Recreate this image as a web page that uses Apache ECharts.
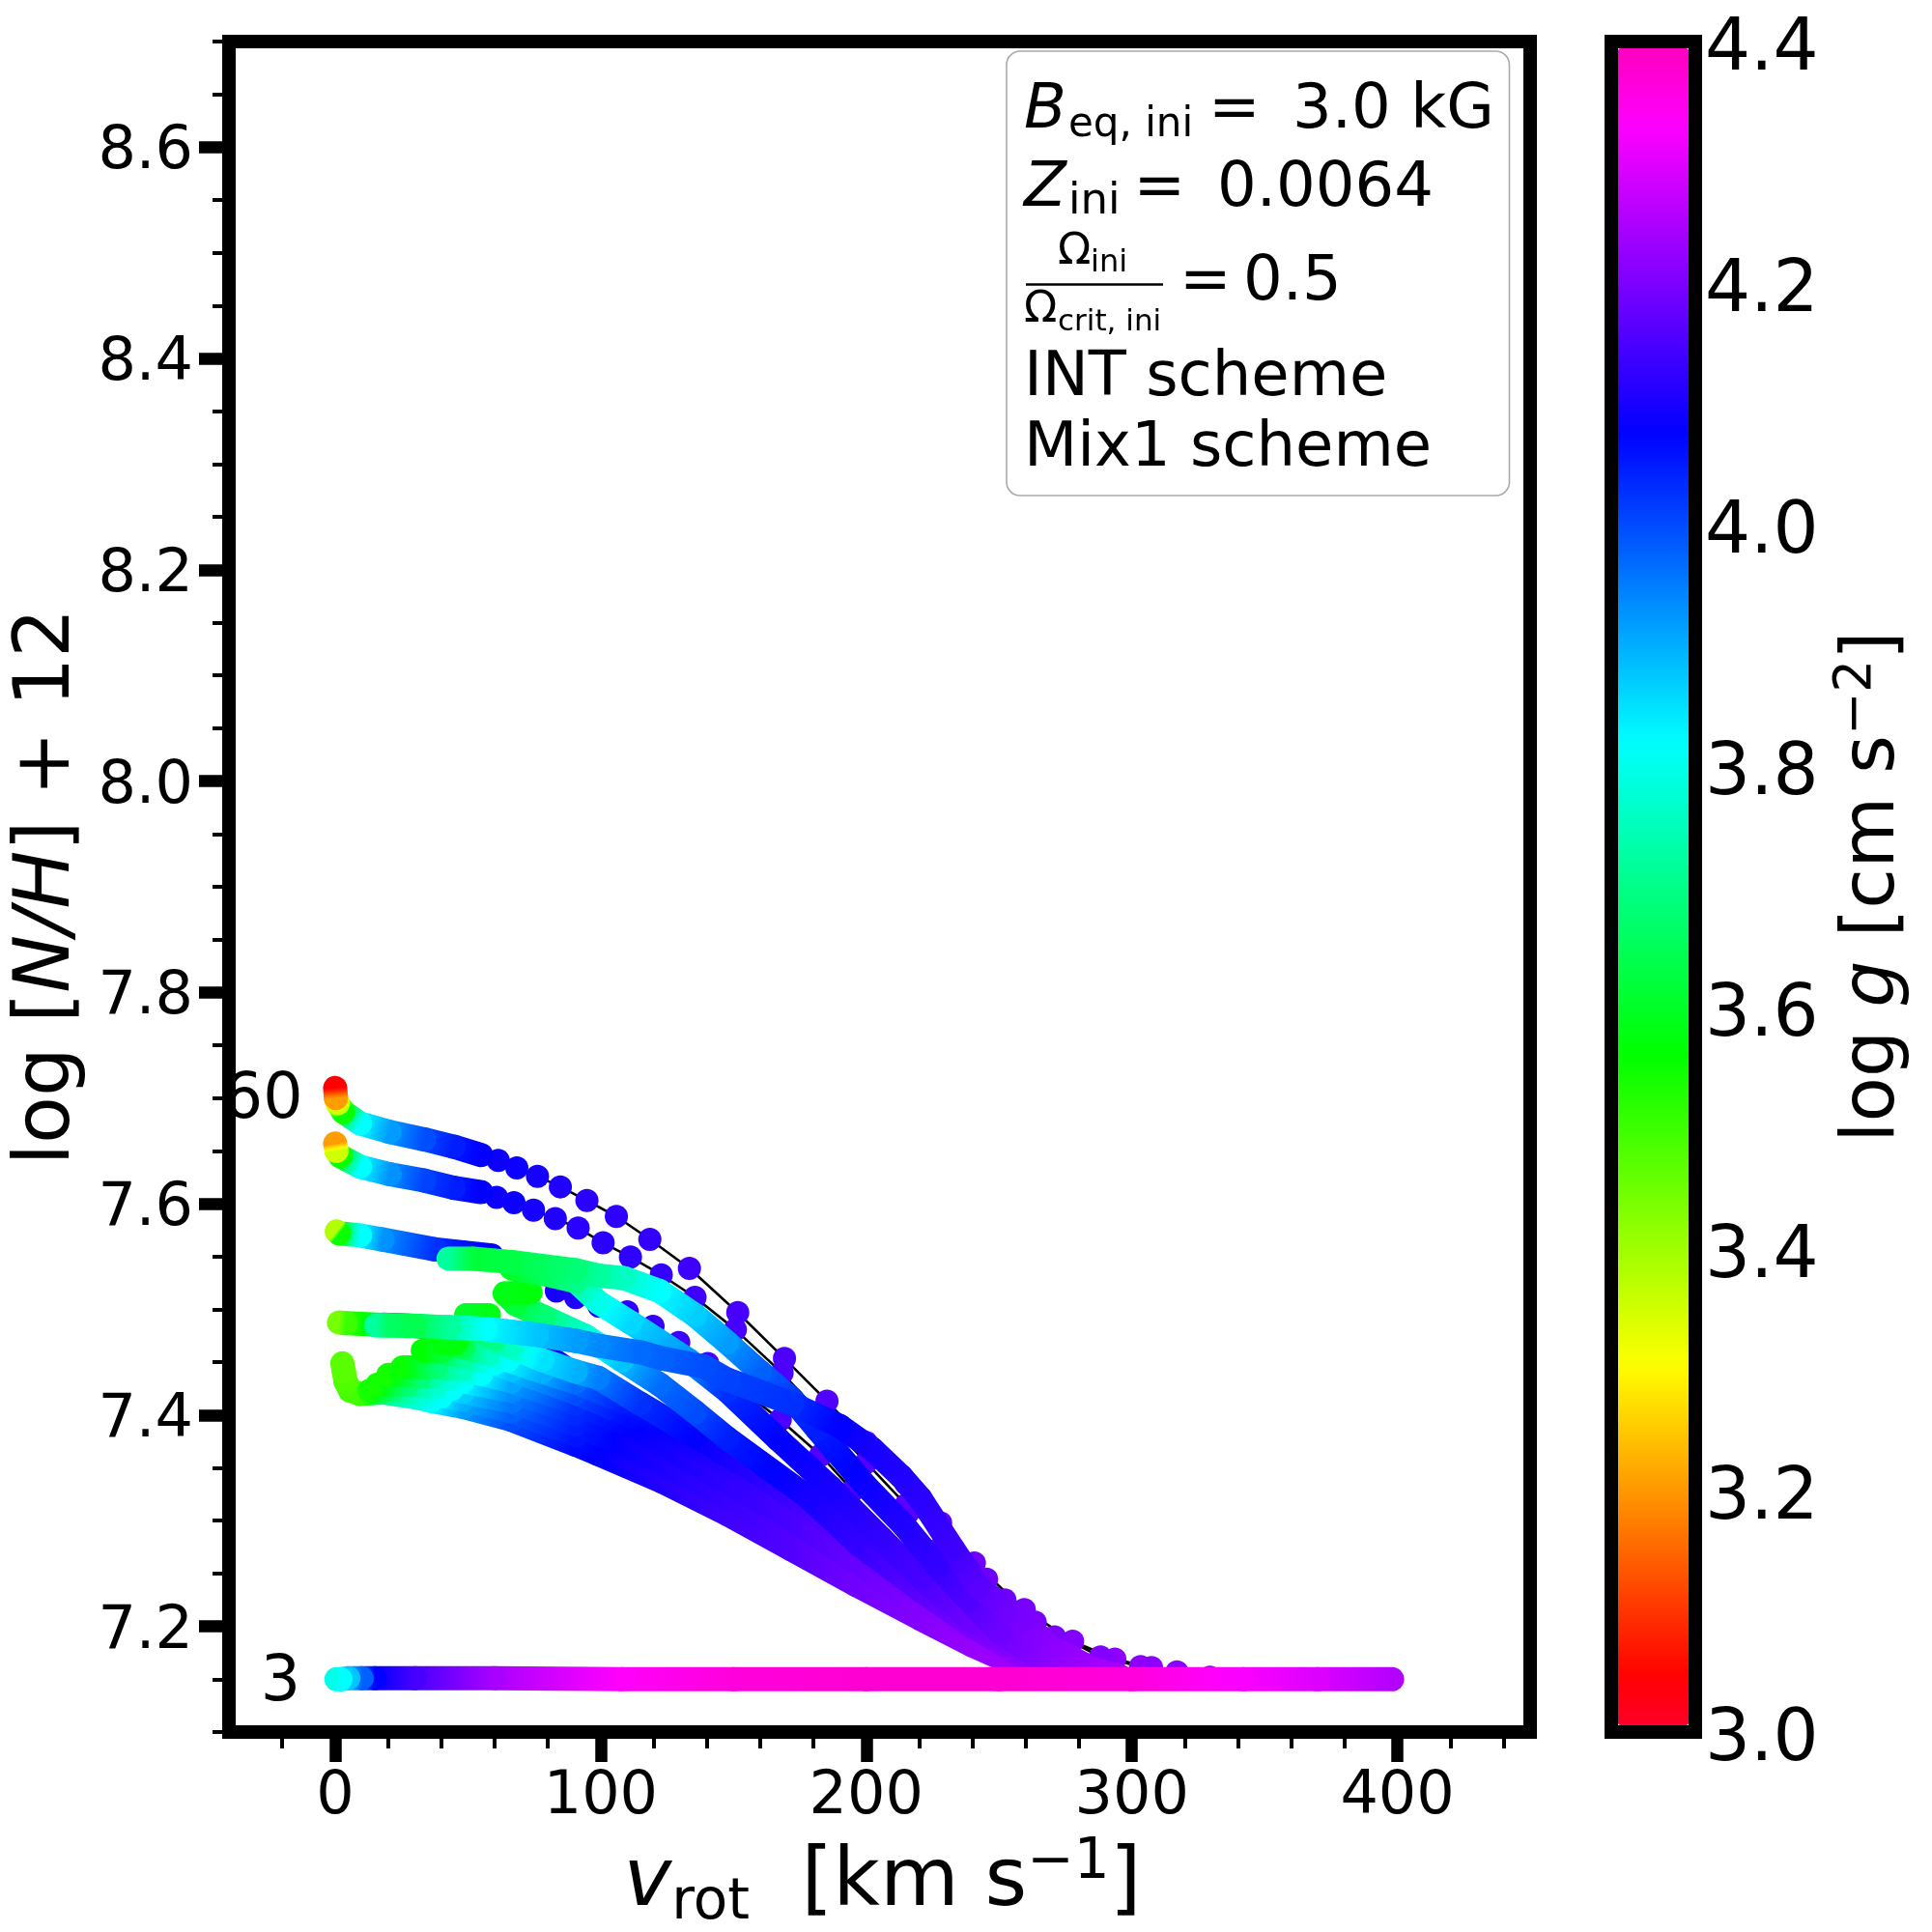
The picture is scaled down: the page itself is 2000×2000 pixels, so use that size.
<!DOCTYPE html>
<html><head><meta charset="utf-8">
<style>html,body{margin:0;padding:0;background:#fff}#c{width:2000px;height:2000px}</style>
<script src="https://cdn.jsdelivr.net/npm/echarts@6/dist/echarts.min.js"></script>
</head><body><div id="c"></div>
<script>
// ---- axis ticks ----
const xMajor=[0,100,200,300,400];
const xMinor=[-20,20,40,60,80,120,140,160,180,220,240,260,280,320,340,360,380,420,440];
const yMajor=[7.2,7.4,7.6,7.8,8.0,8.2,8.4,8.6];
const yMinor=[7.1,7.15,7.25,7.3,7.35,7.45,7.5,7.55,7.65,7.7,7.75,7.85,7.9,7.95,8.05,8.1,8.15,8.25,8.3,8.35,8.45,8.5,8.55,8.65,8.7];
const gMajor=[3.0,3.2,3.4,3.6,3.8,4.0,4.2,4.4];
// ---- tracks: [v_rot, log N/H+12, log g] ----
// upper three tracks: continuous slow end + separated dots
const t60Solid=[[0,7.7096,3.04],[0.3,7.70,3.2],[1,7.695,3.35],[3,7.687,3.55],[9.4,7.676,3.82],[20.5,7.668,3.92],[33.5,7.661,4.0],[44.7,7.654,4.05],[55,7.646,4.08]];
const t60Dots=[[33.5,7.661,4.0],[44.7,7.654,4.05],[55,7.646,4.08],[61.4,7.641,4.09],[68.4,7.634,4.09],[76.2,7.626,4.1],[84.8,7.616,4.11],[94.8,7.603,4.12],[105.9,7.588,4.125],[118.5,7.5663,4.13],[133.4,7.5388,4.14],[151.6,7.497,4.15],[169.2,7.4535,4.155],[185.2,7.4132,4.16],[200,7.374,4.165],[215,7.335,4.17],[228,7.298,4.18],[240.7,7.26,4.19],[259.5,7.216,4.2],[277.7,7.186,4.21],[293.6,7.169,4.22],[307.4,7.161,4.22],[329.4,7.152,4.22]];
const t40Solid=[[0,7.657,3.2],[0.5,7.65,3.35],[2,7.645,3.55],[9.4,7.635,3.82],[20.5,7.628,3.93],[33.5,7.622,4.01],[44.7,7.615,4.05],[55,7.611,4.08]];
const t40Dots=[[33.5,7.622,4.01],[44.7,7.615,4.05],[55,7.611,4.08],[60.8,7.606,4.09],[67.3,7.601,4.09],[74.7,7.594,4.1],[82.9,7.586,4.11],[91.5,7.577,4.12],[100.9,7.563,4.12],[111.2,7.5495,4.125],[122.8,7.5327,4.13],[135.5,7.5114,4.14],[150.7,7.4809,4.15],[168.3,7.4398,4.155],[185,7.395,4.16],[200,7.355,4.165],[215,7.315,4.17],[230,7.28,4.18],[245.3,7.2447,4.19],[263.6,7.204,4.2],[288.2,7.171,4.21],[303.3,7.162,4.22],[317,7.157,4.22]];
const t25Solid=[[0.6,7.5738,3.38],[1.5,7.572,3.55],[9.4,7.57,3.82],[17.8,7.5662,3.93],[37.2,7.557,4.03],[48,7.554,4.06],[59,7.551,4.08]];
const t25Dots=[[59,7.551,4.08],[70,7.535,4.09],[83.3,7.5174,4.1],[90.6,7.5113,4.11],[99.4,7.503,4.12],[110,7.4977,4.125],[119.7,7.484,4.13],[129.4,7.4687,4.14],[140.3,7.4489,4.15],[167.6,7.3956,4.155],[182.8,7.362,4.16],[194.9,7.3285,4.165],[215.6,7.3072,4.17],[226.5,7.272,4.18],[252.2,7.225,4.19],[270.9,7.19,4.2]];
// track peeking out as a blue sliver below the long plateau track
const tB=[[18,7.4855,4.0],[30,7.4845,4.05],[59,7.478,4.08],[78.5,7.4586,4.09],[94,7.432,4.1],[110,7.41,4.1],[130,7.375,4.11],[150,7.345,4.13],[178,7.295,4.15],[206,7.24,4.18],[230,7.205,4.2],[250,7.172,4.22],[270,7.152,4.25]];
// fan of tracks, lowest first
const tP=[[2.7,7.449,3.47],[3.3,7.441,3.47],[3.9,7.432,3.48],[5.7,7.423,3.49],[9.3,7.42,3.5],[17.8,7.4214,3.68],[30,7.4169,3.78],[36,7.4135,3.82],[48.2,7.4077,3.92],[66.4,7.3955,4.0],[90.6,7.372,4.07],[99.1,7.363,4.08],[123.4,7.3367,4.11],[147.6,7.3063,4.14],[171.9,7.2727,4.16],[196.2,7.2392,4.19],[220.4,7.2072,4.21],[240,7.182,4.23],[255,7.165,4.24],[268,7.152,4.25]];
const tO=[[13,7.423,3.54],[22,7.4245,3.68],[33,7.421,3.78],[40,7.418,3.82],[48,7.415,3.9],[66.4,7.404,3.98],[90.6,7.381,4.06],[111,7.359,4.1],[135.5,7.329,4.13],[171.9,7.28,4.16],[196,7.245,4.19],[220.4,7.21,4.21],[240,7.184,4.23],[258,7.165,4.24],[272,7.152,4.25]];
const tN=[[16,7.429,3.54],[27,7.429,3.68],[38,7.427,3.78],[44,7.425,3.82],[48,7.422,3.87],[66.4,7.413,3.96],[90.6,7.391,4.05],[111,7.369,4.09],[135.5,7.338,4.12],[171.9,7.287,4.16],[196,7.25,4.19],[220.4,7.212,4.21],[240,7.186,4.23],[260,7.165,4.24],[276,7.152,4.25]];
const tM=[[20,7.438,3.54],[32,7.437,3.68],[44,7.435,3.79],[48,7.432,3.82],[66.4,7.423,3.94],[90.6,7.401,4.04],[111,7.38,4.09],[135.5,7.346,4.12],[171.9,7.294,4.16],[196,7.256,4.19],[220.4,7.214,4.21],[240,7.188,4.23],[262,7.165,4.24],[280,7.152,4.25]];
const tL=[[25.4,7.4452,3.55],[38,7.445,3.68],[48,7.443,3.76],[55,7.439,3.82],[66.4,7.432,3.91],[90.6,7.411,4.03],[111,7.39,4.08],[135.5,7.354,4.11],[171.9,7.301,4.15],[196,7.262,4.18],[220.4,7.217,4.21],[240,7.19,4.23],[264,7.165,4.24],[282,7.152,4.25]];
const tK=[[33,7.461,3.56],[40,7.46,3.62],[48,7.455,3.72],[60,7.449,3.82],[66.4,7.443,3.88],[90.6,7.421,4.0],[111,7.4,4.07],[135.5,7.363,4.11],[171.9,7.308,4.15],[196,7.268,4.18],[220.4,7.219,4.21],[240,7.192,4.23],[266,7.165,4.24],[284,7.152,4.25]];
const tJ=[[45.7,7.468,3.57],[40.3,7.468,3.57],[48,7.464,3.64],[58,7.458,3.76],[65,7.452,3.82],[78,7.441,3.9],[90.6,7.431,3.97],[111,7.41,4.06],[135.5,7.372,4.1],[171.9,7.315,4.15],[196,7.274,4.18],[220.4,7.221,4.21],[240,7.194,4.23],[268,7.165,4.24],[286,7.152,4.25]];
const tI=[[57.9,7.4946,3.58],[49.4,7.4946,3.6],[55,7.482,3.62],[60,7.472,3.7],[66.4,7.4641,3.76],[78,7.452,3.85],[90.6,7.4412,3.9],[99.1,7.4352,3.95],[114.9,7.4108,4.03],[135.5,7.3803,4.08],[159.8,7.3437,4.12],[184,7.301,4.16],[208.3,7.2523,4.19],[232.6,7.2066,4.22],[250,7.186,4.23],[270,7.165,4.24],[288,7.152,4.25]];
const tE=[[73.6,7.516,3.57],[63.9,7.515,3.58],[68,7.505,3.62],[78.5,7.493,3.68],[94.3,7.4748,3.78],[108,7.452,3.88],[122.2,7.429,3.97],[135.5,7.403,4.0],[147.6,7.378,4.05],[178,7.3224,4.1],[196.2,7.2797,4.13],[220.4,7.234,4.17],[240,7.2,4.2],[260,7.17,4.23],[274,7.152,4.25]];
const tD2=[[66.4,7.5388,3.6],[78,7.534,3.65],[90.6,7.5266,3.7],[99.1,7.5068,3.8],[111.2,7.4876,3.86],[133.1,7.4519,3.93],[147.6,7.423,4.03],[167,7.3767,4.08],[186.5,7.3316,4.1],[205.9,7.2828,4.13],[220.4,7.2461,4.15],[240,7.205,4.19],[260,7.172,4.22],[282,7.152,4.25]];
const tD=[[42.7,7.548,3.72],[51.8,7.548,3.62],[66.4,7.5449,3.63],[90.6,7.5372,3.68],[99.1,7.532,3.72],[108.8,7.5296,3.76],[122.2,7.5174,3.82],[135.5,7.4946,3.87],[147.6,7.4687,3.92],[159.8,7.4413,3.98],[171.9,7.4154,4.02],[181.6,7.3864,4.05],[199.8,7.3331,4.09],[214.4,7.295,4.11],[226.5,7.2581,4.13],[238.6,7.2249,4.16],[250,7.195,4.19],[268,7.165,4.22],[287,7.152,4.25]];
const tF=[[1.45,7.4876,3.44],[4,7.487,3.5],[17.8,7.4854,3.62],[30,7.4845,3.64],[43,7.483,3.72],[56.6,7.4815,3.82],[76,7.476,3.88],[90.6,7.4702,3.92],[99.1,7.4657,3.94],[114.9,7.4595,3.97],[123.4,7.4535,3.98],[139.1,7.4458,4.0],[147.6,7.4337,4.01],[171.9,7.4108,4.03],[190.1,7.3895,4.08],[202.2,7.368,4.1],[213.1,7.342,4.11],[220.4,7.321,4.12],[232.6,7.2737,4.14],[242.3,7.2376,4.17],[258,7.205,4.2],[270,7.18,4.22],[285,7.16,4.24],[296,7.152,4.25]];
const tG=[[15.4,7.4848,3.72],[20,7.4848,3.66],[30,7.4842,3.64],[43,7.483,3.72],[56.6,7.4815,3.82],[76,7.476,3.88],[90.6,7.4702,3.92]];
const t3=[[0.5,7.15,3.8],[2,7.15,3.82],[5,7.151,3.88],[10,7.151,3.98],[15,7.151,4.08],[30,7.151,4.15],[60,7.151,4.25],[108,7.15,4.34],[150,7.15,4.37],[200,7.15,4.38],[250,7.15,4.38],[300,7.15,4.37],[342,7.15,4.33],[370,7.15,4.3],[398,7.15,4.26]];
// text labels placed on the data
const massLabels=[{name:'60',value:[-27.2,7.697]},{name:'3',value:[-20.6,7.146]}];

// gist_rainbow colour map
const cmapStops=[[0,255,0,41],[0.03,255,0,0],[0.215,255,255,0],[0.4,0,255,0],[0.586,0,255,255],[0.77,0,0,255],[0.954,255,0,255],[1,255,0,191]];
function cmapT(t){
  t=Math.max(0,Math.min(1,t));
  for(let i=1;i<cmapStops.length;i++){
    const a=cmapStops[i-1],b=cmapStops[i];
    if(t<=b[0]){const f=(t-a[0])/(b[0]-a[0]);
      return 'rgb('+[1,2,3].map(k=>Math.round(a[k]+(b[k]-a[k])*f)).join(',')+')';}
  }
  return 'rgb(255,0,191)';
}
const G0=3.0,G1=4.4;
const cmapG=g=>cmapT((g-G0)/(G1-G0));
const cmapList=[];for(let i=0;i<=140;i++)cmapList.push(cmapT(i/140));

const FONT='DejaVu Sans';
const solid=(name,tr)=>{
  const segs=[];
  for(let i=tr.length-1;i>0;i--){const b=tr[i],a=tr[i-1];segs.push([b[0],b[1],b[2],a[0],a[1],a[2]]);}
  return {type:'custom',name,z:2,coordinateSystem:'cartesian2d',xAxisIndex:0,yAxisIndex:0,clip:true,silent:true,
    encode:{x:[0,3],y:[1,4]},data:segs,animation:false,
    renderItem(p,api){
      const A=api.coord([api.value(0),api.value(1)]),B=api.coord([api.value(3),api.value(4)]);
      const g1=api.value(2),g2=api.value(5),stops=[];
      for(let k=0;k<=4;k++)stops.push({offset:k/4,color:cmapG(g1+(g2-g1)*k/4)});
      const dx=B[0]-A[0],dy=B[1]-A[1];
      const grad=(dx*dx+dy*dy<0.5)?stops[4].color:new echarts.graphic.LinearGradient(A[0],A[1],B[0],B[1],stops,true);
      return {type:'line',shape:{x1:A[0],y1:A[1],x2:B[0],y2:B[1]},style:{stroke:grad,lineWidth:25,lineCap:'round',fill:null}};
    }};
};
const thin=(name,tr)=>({type:'line',name,z:1,xAxisIndex:0,yAxisIndex:0,data:tr.map(p=>[p[0],p[1]]),showSymbol:false,symbol:'none',
  lineStyle:{color:'#000',width:2.6},clip:true,silent:true,animation:false});
const dots=(name,tr)=>({type:'scatter',name,z:1,xAxisIndex:0,yAxisIndex:0,data:tr,symbolSize:24,itemStyle:{opacity:1},clip:true,silent:true,animation:false,encode:{x:0,y:1}});

const series=[
  thin('60 line',t60Dots),thin('40 line',t40Dots),thin('25 line',t25Dots),
  dots('60 dots',t60Dots),dots('40 dots',t40Dots),dots('25 dots',t25Dots),
  solid('60',t60Solid),solid('40',t40Solid),solid('25',t25Solid),
  solid('B',tB),
  solid('P',tP),solid('O',tO),solid('N',tN),solid('M',tM),solid('L',tL),solid('K',tK),solid('J',tJ),solid('I',tI),
  solid('E',tE),solid('D2',tD2),solid('D',tD),solid('F',tF),solid('G',tG),solid('3',t3),
  {type:'scatter',name:'mass labels',z:3,xAxisIndex:0,yAxisIndex:0,symbolSize:0,data:massLabels,silent:true,animation:false,clip:false,
   itemStyle:{opacity:1},
   label:{show:true,position:'inside',opacity:1,formatter:'{b}',fontFamily:FONT,fontSize:65,color:'#000'}}
];

// legend text placed at baseline positions
const T=(text,x,base,fs,italic)=>({type:'text',z:50,silent:true,x:x,y:base-1-0.23*fs,
  style:{text,fontFamily:FONT,fontSize:fs,fontStyle:italic?'italic':'normal',fill:'#000',align:'left',verticalAlign:'middle'}});
const legend=[
  {type:'rect',z:49,silent:true,shape:{x:1042,y:53,width:520.5,height:460,r:14},style:{fill:'#fff',stroke:'#aaa',lineWidth:1.6}},
  T('B',1060,131,64,true),T('eq, ini',1106,141,42,false),T('=',1251,131,64,false),T('3.0 kG',1338,131,64,false),
  T('Z',1060,212,64,true),T('ini',1106,221,45,false),T('=',1173.5,212,64,false),T('0.0064',1260,212,64,false),
  T('\u03a9',1095,273,45,false),T('ini',1129,281,32,false),
  {type:'line',z:50,silent:true,shape:{x1:1062,y1:294.5,x2:1204,y2:294.5},style:{stroke:'#000',lineWidth:2.5}},
  T('\u03a9',1060,333,45,false),T('crit, ini',1095,342,31,false),
  T('=',1221,309,64,false),T('0.5',1287,309,64,false),
  T('INT scheme',1060,408,64,false),T('Mix1 scheme',1060,481,64,false),
  {type:'rect',z:48,silent:true,shape:{x:1668,y:43,width:87,height:1750},style:{fill:null,stroke:'#000',lineWidth:14}}
];

const tickCommon={show:true,lineStyle:{color:'#000'}};
const noLine={show:false,onZero:false};
const option={
  animation:false,backgroundColor:'#fff',
  grid:[
    {left:237,top:43,width:1347,height:1750,show:true,borderWidth:14,borderColor:'#000',backgroundColor:'#fff',containLabel:false,outerBoundsMode:'none'},
    {left:1675,top:43,width:73,height:1750,containLabel:false,outerBoundsMode:'none'}
  ],
  xAxis:[
    {type:'value',gridIndex:0,position:'bottom',min:-40,max:450,splitLine:{show:false},axisLine:noLine,
     axisTick:{...tickCommon,customValues:xMajor,length:31,lineStyle:{color:'#000',width:12.5}},
     axisLabel:{customValues:xMajor,fontFamily:FONT,fontSize:62,color:'#000',margin:37,hideOverlap:false,showMinLabel:true,showMaxLabel:true},
     name:'{i|v}{s|rot}{t|  [km s}{u|\u22121}{t|]}',nameLocation:'middle',nameGap:107,
     nameTextStyle:{padding:[0,0,0,6],rich:{
       i:{fontFamily:FONT,fontSize:84,fontStyle:'italic',color:'#000'},
       t:{fontFamily:FONT,fontSize:84,color:'#000'},
       s:{fontFamily:FONT,fontSize:58,color:'#000',verticalAlign:'bottom',lineHeight:100},
       u:{fontFamily:FONT,fontSize:58,color:'#000',verticalAlign:'top',lineHeight:100}}}},
    {type:'value',gridIndex:0,position:'bottom',min:-40,max:450,splitLine:{show:false},axisLine:noLine,axisLabel:{show:false},
     axisTick:{...tickCommon,customValues:xMinor,length:17,lineStyle:{color:'#000',width:4}}},
    {type:'value',gridIndex:1,min:0,max:1,show:false}
  ],
  yAxis:[
    {type:'value',gridIndex:0,position:'left',min:7.1,max:8.7,splitLine:{show:false},axisLine:noLine,
     axisTick:{...tickCommon,customValues:yMajor,length:31,lineStyle:{color:'#000',width:12.5}},
     axisLabel:{customValues:yMajor,formatter:v=>v.toFixed(1),fontFamily:FONT,fontSize:62,color:'#000',margin:37,verticalAlign:'top',padding:[-25,0,0,0],showMinLabel:true,showMaxLabel:true},
     name:'log [{i|N/H}] + 12',nameLocation:'middle',nameRotate:90,nameGap:123,
     nameTextStyle:{fontFamily:FONT,fontSize:80,color:'#000',rich:{i:{fontFamily:FONT,fontSize:80,fontStyle:'italic',color:'#000'}}}},
    {type:'value',gridIndex:0,position:'left',min:7.1,max:8.7,splitLine:{show:false},axisLine:noLine,axisLabel:{show:false},
     axisTick:{...tickCommon,customValues:yMinor,length:17,lineStyle:{color:'#000',width:4}}},
    {type:'value',gridIndex:1,position:'right',min:G0,max:G1,splitLine:{show:false},axisLine:noLine,axisTick:{show:false},
     axisLabel:{customValues:gMajor,formatter:v=>v.toFixed(1),fontFamily:FONT,fontSize:74,color:'#000',margin:17,verticalAlign:'top',padding:[-27,0,0,0],showMinLabel:true,showMaxLabel:true},
     name:'log {i|g} [cm s{u|\u22122}]',nameLocation:'middle',nameRotate:90,nameGap:148,
     nameTextStyle:{fontFamily:FONT,fontSize:76,color:'#000',rich:{i:{fontFamily:FONT,fontSize:76,fontStyle:'italic',color:'#000'},
       u:{fontFamily:FONT,fontSize:53,color:'#000',verticalAlign:'top',lineHeight:88}}}}
  ],
  visualMap:{type:'continuous',seriesIndex:[3,4,5],dimension:2,min:G0,max:G1,inRange:{color:cmapList},
    left:1675,top:50,itemWidth:73,itemHeight:1736,padding:0,calculable:false,text:null,showLabel:false,hoverLink:false,orient:'vertical',realtime:false},
  graphic:{elements:legend},
  series
};
const chart=echarts.init(document.getElementById('c'),null,{renderer:'canvas',width:2000,height:2000,devicePixelRatio:1});
chart.setOption(option);
</script></body></html>
